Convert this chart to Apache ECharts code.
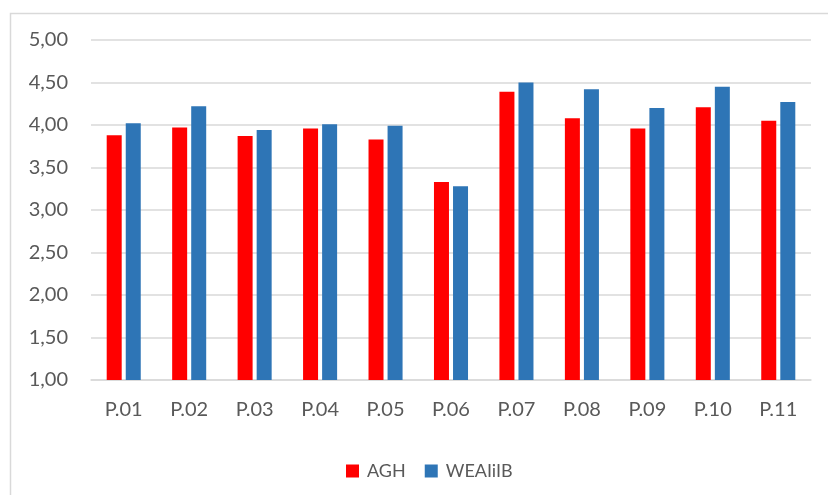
<!DOCTYPE html>
<html>
<head>
<meta charset="utf-8">
<script src="https://cdn.jsdelivr.net/npm/echarts@6/dist/echarts.min.js"></script>
<style>html,body{margin:0;padding:0;background:#fff;}#c{width:828px;height:495px;}</style>
</head>
<body>
<div id="c"></div>
<script>
const categories = ['P.01','P.02','P.03','P.04','P.05','P.06','P.07','P.08','P.09','P.10','P.11'];
const aghValues = [3.88, 3.97, 3.87, 3.96, 3.83, 3.33, 4.39, 4.08, 3.96, 4.21, 4.05];
const weaiibValues = [4.02, 4.22, 3.94, 4.01, 3.99, 3.28, 4.50, 4.42, 4.20, 4.45, 4.27];
const seriesNames = ['AGH', 'WEAIiIB'];

const chart = echarts.init(document.getElementById('c'), null, {renderer: 'canvas'});
const font = 'Lato, "Open Sans", sans-serif';
chart.setOption({
  animation: false,
  backgroundColor: '#ffffff',
  graphic: [{
    type: 'rect', left: 8, top: 11,
    shape: {x: 0, y: 0, width: 840, height: 500},
    style: {fill: 'none', stroke: '#d9d9d9', lineWidth: 1.5}
  }],
  grid: {left: 91, right: 17, top: 40, bottom: 115, containLabel: false},
  legend: {
    left: 341, top: 457,
    itemWidth: 13, itemHeight: 13, itemGap: 19,
    icon: 'rect',
    textStyle: {fontFamily: font, fontSize: 18, color: '#595959', padding: [0, 0, 0, 3]},
    data: seriesNames
  },
  xAxis: {
    type: 'category',
    data: categories,
    axisLine: {lineStyle: {color: '#d9d9d9', width: 1.5}},
    axisTick: {show: false},
    axisLabel: {fontFamily: font, fontSize: 20, color: '#595959', margin: 20}
  },
  yAxis: {
    type: 'value',
    min: 1, max: 5, interval: 0.5,
    axisLine: {show: false},
    axisTick: {show: false},
    splitLine: {lineStyle: {color: '#d9d9d9', width: 1.5}},
    axisLabel: {
      fontFamily: font, fontSize: 20, color: '#595959', margin: 23,
      formatter: v => v.toFixed(2).replace('.', ',')
    }
  },
  series: [
    {name: seriesNames[0], type: 'bar', data: aghValues, barWidth: 15, barGap: '27%',
     itemStyle: {color: '#FF0000'}},
    {name: seriesNames[1], type: 'bar', data: weaiibValues, barWidth: 15, barGap: '27%',
     itemStyle: {color: '#2E75B6'}}
  ]
});
</script>
</body>
</html>
